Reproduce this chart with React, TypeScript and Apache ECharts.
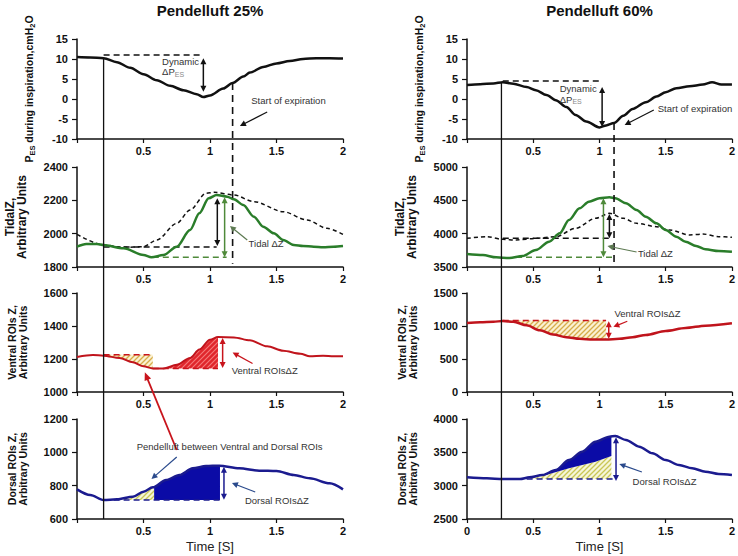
import React, { useEffect, useRef } from "react";
import * as echarts from "echarts";

type P = [number, number];

// ---------- data (time [s], value) ----------
const xTickValues = [0, 0.5, 1, 1.5, 2];

// Row 1: P_ES during inspiration (cmH2O)
const pes25: P[] = [[0,10.5],[0.1,10.4],[0.2,10.2],[0.3,9.2],[0.4,7.8],[0.5,6.2],[0.6,4.7],[0.7,3.3],[0.8,2.2],[0.9,1.2],[0.95,0.5],[1.0,0.9],[1.1,2.6],[1.17,4],[1.25,5.6],[1.3,6.6],[1.4,8],[1.5,8.9],[1.6,9.5],[1.7,10],[1.8,10.2],[1.9,10.2],[2.0,10.1]];
const pes60: P[] = [[0,3.5],[0.1,3.7],[0.2,3.9],[0.27,4.2],[0.35,3.8],[0.45,3],[0.52,2.2],[0.6,1],[0.67,-0.3],[0.75,-2],[0.82,-4],[0.9,-5.6],[1.0,-7.1],[1.05,-6.6],[1.11,-6],[1.18,-4.2],[1.25,-2.5],[1.35,-0.8],[1.43,0.6],[1.5,1.7],[1.58,2.7],[1.68,3.2],[1.78,3.6],[1.85,4.2],[1.92,3.6],[2.0,3.6]];

// Row 2: Tidal Z (green) and reference (dotted black)
const tidal25: P[] = [[0,1922],[0.07,1938],[0.15,1938],[0.2,1932],[0.35,1912],[0.5,1872],[0.56,1858],[0.65,1872],[0.75,1922],[0.85,2022],[0.92,2122],[0.99,2212],[1.05,2232],[1.13,2222],[1.18,2206],[1.25,2172],[1.33,2102],[1.4,2042],[1.48,2002],[1.55,1962],[1.63,1932],[1.7,1926],[1.78,1922],[1.85,1918],[1.93,1922],[2.0,1926]];
const tidalRef25: P[] = [[0,1996],[0.2,1932],[0.35,1918],[0.5,1922],[0.6,1962],[0.75,2062],[0.85,2142],[0.97,2242],[1.03,2248],[1.18,2232],[1.33,2192],[1.55,2132],[1.73,2082],[1.88,2032],[2.0,1996]];
const tidal60: P[] = [[0,3695],[0.12,3680],[0.22,3645],[0.32,3635],[0.42,3665],[0.52,3755],[0.62,3880],[0.7,4005],[0.77,4205],[0.85,4380],[0.92,4480],[1.0,4530],[1.075,4545],[1.12,4530],[1.2,4455],[1.28,4355],[1.35,4255],[1.43,4155],[1.5,4055],[1.58,3955],[1.65,3880],[1.73,3815],[1.8,3765],[1.9,3740],[2.0,3730]];
const tidalRef60: P[] = [[0,3930],[0.15,3955],[0.27,3915],[0.37,3905],[0.52,3930],[0.67,3955],[0.82,4080],[0.97,4230],[1.075,4305],[1.18,4230],[1.28,4155],[1.43,4105],[1.53,4055],[1.68,3980],[1.78,3995],[1.9,3955],[2.0,3945]];

// Row 3: Ventral ROIs Z
const ventral25: P[] = [[0,1212],[0.12,1224],[0.2,1220],[0.32,1206],[0.42,1180],[0.5,1156],[0.57,1143],[0.65,1143],[0.75,1165],[0.85,1206],[0.92,1257],[1.0,1317],[1.06,1333],[1.18,1331],[1.3,1313],[1.43,1277],[1.55,1250],[1.68,1232],[1.75,1216],[1.85,1220],[1.93,1216],[2.0,1216]];
const ventral60: P[] = [[0,1045],[0.1,1055],[0.2,1065],[0.27,1075],[0.35,1065],[0.45,1010],[0.55,935],[0.65,870],[0.75,830],[0.85,805],[0.95,795],[1.05,795],[1.15,805],[1.25,830],[1.35,865],[1.5,925],[1.65,970],[1.8,1005],[2.0,1040]];

// Row 4: Dorsal ROIs Z
const dorsal25: P[] = [[0,778],[0.1,744],[0.2,714],[0.3,718],[0.42,734],[0.5,764],[0.57,790],[0.67,834],[0.77,864],[0.87,904],[0.97,918],[1.07,920],[1.22,904],[1.37,890],[1.5,888],[1.63,864],[1.75,844],[1.9,814],[2.0,778]];
const dorsal60: P[] = [[0,3125],[0.15,3110],[0.27,3100],[0.4,3100],[0.47,3125],[0.57,3160],[0.67,3235],[0.77,3385],[0.87,3510],[0.97,3660],[1.075,3735],[1.12,3745],[1.2,3685],[1.3,3585],[1.4,3485],[1.5,3385],[1.6,3310],[1.7,3260],[1.8,3210],[1.9,3175],[2.0,3160]];
const dorsal60Split: P[] = [[0.47,3100],[0.57,3145],[0.77,3260],[0.97,3360],[1.09,3445]];

// axis ranges per panel [min, max, interval]
const yRanges: number[][] = [[-10,15,5],[-10,15,5],[1800,2400,200],[3500,5000,500],[1000,1600,200],[0,1500,500],[600,1200,200],[2500,4000,500]];

// markers (time in s)
const inspStart = [0.2, 0.26];
const expStart = [1.17, 1.11];

// dashed reference levels: [panel, value, t0, t1, colourKey]
const hLines: [number, number, number, number, string][] = [
  [0, 11, 0.2, 0.95, "k"], [1, 4.5, 0.27, 1.02, "k"],
  [2, 1920, 0.2, 1.05, "k"], [2, 1858, 0.57, 1.125, "g"],
  [3, 3930, 0.27, 1.075, "k"], [3, 3645, 0.37, 1.11, "g"],
  [4, 1226, 0.2, 0.57, "r"], [4, 1143, 0.57, 1.06, "r"],
  [5, 1083, 0.27, 1.05, "r"],
  [6, 714, 0.2, 1.075, "b"], [7, 3100, 0.45, 1.1, "b"],
];
// double arrows: [panel, t, v0, v1, colourKey]
const dblArrows: [number, number, number, number, string][] = [
  [0, 0.95, 10.2, 1.8, "k"], [1, 1.02, 3, -7, "k"],
  [2, 1.055, 2212, 1926, "k"], [2, 1.11, 2218, 1858, "g"],
  [3, 1.075, 4295, 3930, "k"], [3, 1.03, 4530, 3645, "g"],
  [4, 1.095, 1327, 1145, "r"], [5, 1.07, 1073, 806, "r"],
  [6, 1.105, 914, 716, "b"], [7, 1.125, 3725, 3070, "b"],
];
// pointer arrows: [panel, tFrom, vFrom, tTo, vTo, colourKey]
const pointers: [number, number, number, number, number, string][] = [
  [0, 1.43, -3.25, 1.225, -6.75, "k"], [1, 1.41, -2.75, 1.19, -6.5, "k"],
  [2, 1.28, 1962, 1.15, 2046, "ga"], [3, 1.28, 3725, 1.06, 3815, "ga"],
  [4, 1.32, 1173, 1.17, 1239, "r"], [5, 1.21, 1071, 1.105, 987, "r"],
  [6, 1.34, 762, 1.165, 816, "ba"], [7, 1.32, 3205, 1.15, 3325, "ba"],
  [6, 0.75, 972, 0.56, 840, "ba"],
];
// annotation texts: [panel, t, v, text]
const notes: [number, number, number, string][] = [
  [0, 0.64, 9.3, "Dynamic"], [0, 0.64, 6.8, "{a|ΔP}{s|ES}"], [0, 1.31, -0.4, "Start of expiration"],
  [1, 0.70, 2.7, "Dynamic"], [1, 0.70, -0.1, "{a|ΔP}{s|ES}"], [1, 1.44, -2.3, "Start of expiration"],
  [2, 1.29, 1942, "Tidal ΔZ"], [3, 1.29, 3705, "Tidal ΔZ"],
  [4, 1.163, 1131, "Ventral ROIsΔZ"], [5, 1.113, 1183, "Ventral ROIsΔZ"],
  [6, 1.263, 714, "Dorsal ROIsΔZ"], [7, 1.25, 3060, "Dorsal ROIsΔZ"],
  [6, 0.449, 1038, "Pendelluft between Ventral and Dorsal ROIs"],
];

// ---------- styling ----------
const FONT = "'Liberation Sans', Arial, sans-serif";
const COL: Record<string, string> = {
  k: "#111111", g: "#4f8a3a", ga: "#5d7a52", r: "#c8141c", b: "#1b1b8f", ba: "#2a4a8c",
};
const GRID_LEFT = [77, 467];
const GRID_TOP = [39, 167, 293, 419];
const GRID_H = [100, 100, 99, 100];
const GRID_W = 266;

function hatch(bg: string, fg: string, size = 5, sw = 1.3) {
  const s = size;
  const svg = `<svg xmlns="http://www.w3.org/2000/svg" width="${s}" height="${s}"><rect width="${s}" height="${s}" fill="${bg}"/><path d="M0,${s} L${s},0 M-1,1 L1,-1 M${s - 1},${s + 1} L${s + 1},${s - 1}" stroke="${fg}" stroke-width="${sw}"/></svg>`;
  return {
    image: "data:image/svg+xml;charset=utf-8," + encodeURIComponent(svg),
    repeat: "repeat",
    imageWidth: s,
    imageHeight: s,
  } as any;
}

function interp(c: P[], t: number): number {
  for (let i = 0; i < c.length - 1; i++) {
    const [t0, v0] = c[i];
    const [t1, v1] = c[i + 1];
    if (t >= t0 && t <= t1) return v0 + ((v1 - v0) * (t - t0)) / (t1 - t0);
  }
  return c[c.length - 1][1];
}
function segment(c: P[], t0: number, t1: number): P[] {
  const pts: P[] = [[t0, interp(c, t0)]];
  c.forEach((p) => { if (p[0] > t0 && p[0] < t1) pts.push(p); });
  pts.push([t1, interp(c, t1)]);
  return pts;
}

function buildOption() {
  const grid: any[] = [];
  const xAxis: any[] = [];
  const yAxis: any[] = [];
  const yNames = [
    "{n|P}{s|ES}{n| during inspiration,cmH}{s|2}{n|O}",
    "TidalZ,\nArbitrary Units",
    "Ventral ROIs Z,\nArbitrary Units",
    "Dorsal ROIs Z,\nArbitrary Units",
  ];
  for (let r = 0; r < 4; r++) {
    for (let c = 0; c < 2; c++) {
      const i = r * 2 + c;
      grid.push({ left: GRID_LEFT[c], top: GRID_TOP[r], width: GRID_W, height: GRID_H[r] });
      const showZero = i === 7;
      xAxis.push({
        type: "value", gridIndex: i, min: xTickValues[0], max: xTickValues[xTickValues.length - 1], interval: 0.5,
        axisLine: { onZero: false, lineStyle: { color: "#111", width: 1.5 } },
        axisTick: { show: true, length: 4, lineStyle: { color: "#111", width: 1.2 } },
        splitLine: { show: false },
        axisLabel: {
          color: "#111", fontSize: 11, fontWeight: "bold", fontFamily: FONT, margin: 6,
          formatter: (v: number) => (v === 0 && !showZero ? "" : String(v)),
        },
        name: r === 3 ? "Time [S]" : "",
        nameLocation: "middle", nameGap: 21,
        nameTextStyle: { fontSize: 13, color: "#222", fontFamily: FONT },
      });
      const [mn, mx, iv] = yRanges[i];
      const richBase = { fontFamily: FONT, fontWeight: "bold", color: "#111" };
      yAxis.push({
        type: "value", gridIndex: i, min: mn, max: mx, interval: iv,
        axisLine: { show: true, onZero: false, lineStyle: { color: "#111", width: 1.5 } },
        axisTick: { show: true, length: 5, lineStyle: { color: "#111", width: 1.2 } },
        splitLine: { show: false },
        axisLabel: {
          color: "#111", fontSize: 11, fontWeight: "bold", fontFamily: FONT, margin: 9,
          formatter: (v: number) => String(v),
        },
        name: yNames[r], nameLocation: "middle", nameRotate: 90,
        nameGap: r === 0 ? 41 : 49,
        nameTextStyle: r === 0
          ? {
              rich: {
                n: { ...richBase, fontSize: 10.5, lineHeight: 14, verticalAlign: "middle" },
                s: { ...richBase, fontSize: 7.5, lineHeight: 8, verticalAlign: "bottom" },
              },
            }
          : { ...richBase, fontSize: r === 1 ? 12 : 10.5, lineHeight: r === 1 ? 12 : 11 },
      });
    }
  }

  const series: any[] = [];
  const fill = (g: number, pts: P[], color: any) => {
    series.push({
      type: "custom", xAxisIndex: g, yAxisIndex: g, data: pts, silent: true, z: 1,
      renderItem: (params: any, api: any) =>
        params.dataIndex === 0
          ? { type: "polygon", shape: { points: pts.map((p) => api.coord(p)) }, style: { fill: color, stroke: "none" } }
          : null,
    });
  };
  const yellow = hatch("#fbf1d2", "#d6ad4a");
  const redHatch = hatch("#e0262c", "#f57a7a", 5, 1.1);
  const yg = hatch("#f6f6d8", "#c9c656");
  const blueFill = "#0b0ba6";

  fill(4, [[0.2, 1226], [0.57, 1226], ...segment(ventral25, 0.2, 0.57).reverse()], yellow);
  fill(4, [...segment(ventral25, 0.57, 1.06), [1.06, 1143], [0.57, 1143]], redHatch);
  fill(5, [[0.27, 1083], [1.05, 1083], ...segment(ventral60, 0.27, 1.05).reverse()], yellow);
  fill(6, [...segment(dorsal25, 0.2, 0.58), [0.58, 714], [0.2, 714]], yg);
  fill(6, [...segment(dorsal25, 0.58, 1.075), [1.075, 714], [0.58, 714]], blueFill);
  fill(7, [...dorsal60Split, [1.09, 3100], [0.47, 3100]], yg);
  fill(7, [...segment(dorsal60, 0.57, 1.09), ...dorsal60Split.filter((p) => p[0] >= 0.57).reverse()], blueFill);

  const line = (g: number, data: P[], color: string, width: number, dash?: number[], smooth = true) => {
    series.push({
      type: "line", xAxisIndex: g, yAxisIndex: g, data, symbol: "none", silent: true, z: 3,
      smooth: smooth ? 0.3 : false, smoothMonotone: "x",
      lineStyle: { color, width, type: dash || "solid" },
    });
  };
  hLines.forEach(([g, v, t0, t1, ck]) => line(g, [[t0, v], [t1, v]], COL[ck], 1.5, [6, 4], false));
  line(2, tidalRef25, "#111", 1.5, [4, 3]);
  line(3, tidalRef60, "#111", 1.5, [4, 3]);
  line(0, pes25, "#111", 2.5);
  line(1, pes60, "#111", 2.5);
  line(2, tidal25, "#2a7d2a", 2.5);
  line(3, tidal60, "#2a7d2a", 2.5);
  line(4, ventral25, "#c0141c", 2);
  line(5, ventral60, "#c0141c", 2.5);
  line(6, dorsal25, "#1b1b8f", 2.5);
  line(7, dorsal60, "#1b1b8f", 2.5);

  return { animation: false, backgroundColor: "#fff", grid, xAxis, yAxis, series };
}

function arrowEls(p1: number[], p2: number[], color: string, both: boolean, lw = 1.3, L = 6, W = 3) {
  const dx = p2[0] - p1[0], dy = p2[1] - p1[1];
  const len = Math.hypot(dx, dy) || 1;
  const ux = dx / len, uy = dy / len, nx = -uy, ny = ux;
  const head = (tip: number[], sx: number, sy: number) => ({
    type: "polygon", silent: true, z: 20,
    shape: { points: [[tip[0], tip[1]], [tip[0] - sx * L + nx * W, tip[1] - sy * L + ny * W], [tip[0] - sx * L - nx * W, tip[1] - sy * L - ny * W]] },
    style: { fill: color },
  });
  const a = both ? [p1[0] + ux * L * 0.8, p1[1] + uy * L * 0.8] : p1;
  const b = [p2[0] - ux * L * 0.8, p2[1] - uy * L * 0.8];
  const els: any[] = [
    { type: "line", silent: true, z: 20, shape: { x1: a[0], y1: a[1], x2: b[0], y2: b[1] }, style: { stroke: color, lineWidth: lw } },
    head(p2, ux, uy),
  ];
  if (both) els.push(head(p1, -ux, -uy));
  return els;
}

function buildGraphic(chart: any) {
  const px = (g: number, t: number, v: number): number[] =>
    chart.convertToPixel({ xAxisIndex: g, yAxisIndex: g }, [t, v]) as number[];
  const els: any[] = [];
  // titles centred on each column
  ["Pendelluft 25%", "Pendelluft 60%"].forEach((txt, c) => {
    const x = px(c, 1, 0)[0];
    els.push({ type: "text", x, y: 10, silent: true, style: { text: txt, textAlign: "center", textVerticalAlign: "middle", fontSize: 15, fontWeight: "bold", fontFamily: FONT, fill: "#111" } });
  });
  // inspiration start (solid) through all panels
  [[0, 6, 10.2, 600], [1, 7, 4.2, 2500]].forEach(([g0, g1, v0, v1], c) => {
    const a = px(g0, inspStart[c], v0);
    const b = px(g1, inspStart[c], v1);
    els.push({ type: "line", silent: true, z: 15, shape: { x1: a[0], y1: a[1], x2: b[0], y2: b[1] }, style: { stroke: "#111", lineWidth: 1.3 } });
  });
  // expiration start (dashed)
  [[0, 2, 4, 1820], [1, 3, -6, 3530]].forEach(([g0, g1, v0, v1], c) => {
    const a = px(g0, expStart[c], v0);
    const b = px(g1, expStart[c], v1);
    els.push({ type: "line", silent: true, z: 15, shape: { x1: a[0], y1: a[1], x2: b[0], y2: b[1] }, style: { stroke: "#111", lineWidth: 1.6, lineDash: [7, 5] } });
  });
  dblArrows.forEach(([g, t, v0, v1, ck]) => els.push(...arrowEls(px(g, t, v0), px(g, t, v1), COL[ck], true, 1.5)));
  pointers.forEach(([g, t0, v0, t1, v1, ck]) => els.push(...arrowEls(px(g, t0, v0), px(g, t1, v1), COL[ck], false, 1.2)));
  // red pendelluft pointer from dorsal panel up to ventral panel
  els.push(...arrowEls(px(6, 0.75, 1014), px(4, 0.51, 1119), COL.r, false, 1.8, 8, 3.5));
  notes.forEach(([g, t, v, text]) => {
    const p = px(g, t, v);
    els.push({
      type: "text", x: p[0], y: p[1], silent: true, z: 25,
      style: {
        text, textAlign: "left", textVerticalAlign: "middle", fontSize: 9.5, fontFamily: FONT, fill: "#333",
        rich: {
          a: { fontSize: 9.5, fontFamily: FONT, fill: "#333", color: "#333", lineHeight: 12, verticalAlign: "middle" },
          s: { fontSize: 7, fontFamily: FONT, fill: "#888", color: "#888", lineHeight: 7, verticalAlign: "bottom" },
        },
      },
    });
  });
  return els;
}

export default function App() {
  const ref = useRef<HTMLDivElement>(null);
  useEffect(() => {
    if (!ref.current) return;
    const chart = echarts.init(ref.current, null, { renderer: "svg" });
    chart.setOption(buildOption() as any);
    chart.setOption({ graphic: buildGraphic(chart) } as any);
    return () => chart.dispose();
  }, []);
  return (
    <div
      ref={ref}
      style={{ position: "fixed", left: 0, top: 0, width: 738, height: 556, background: "#fff" }}
    />
  );
}
